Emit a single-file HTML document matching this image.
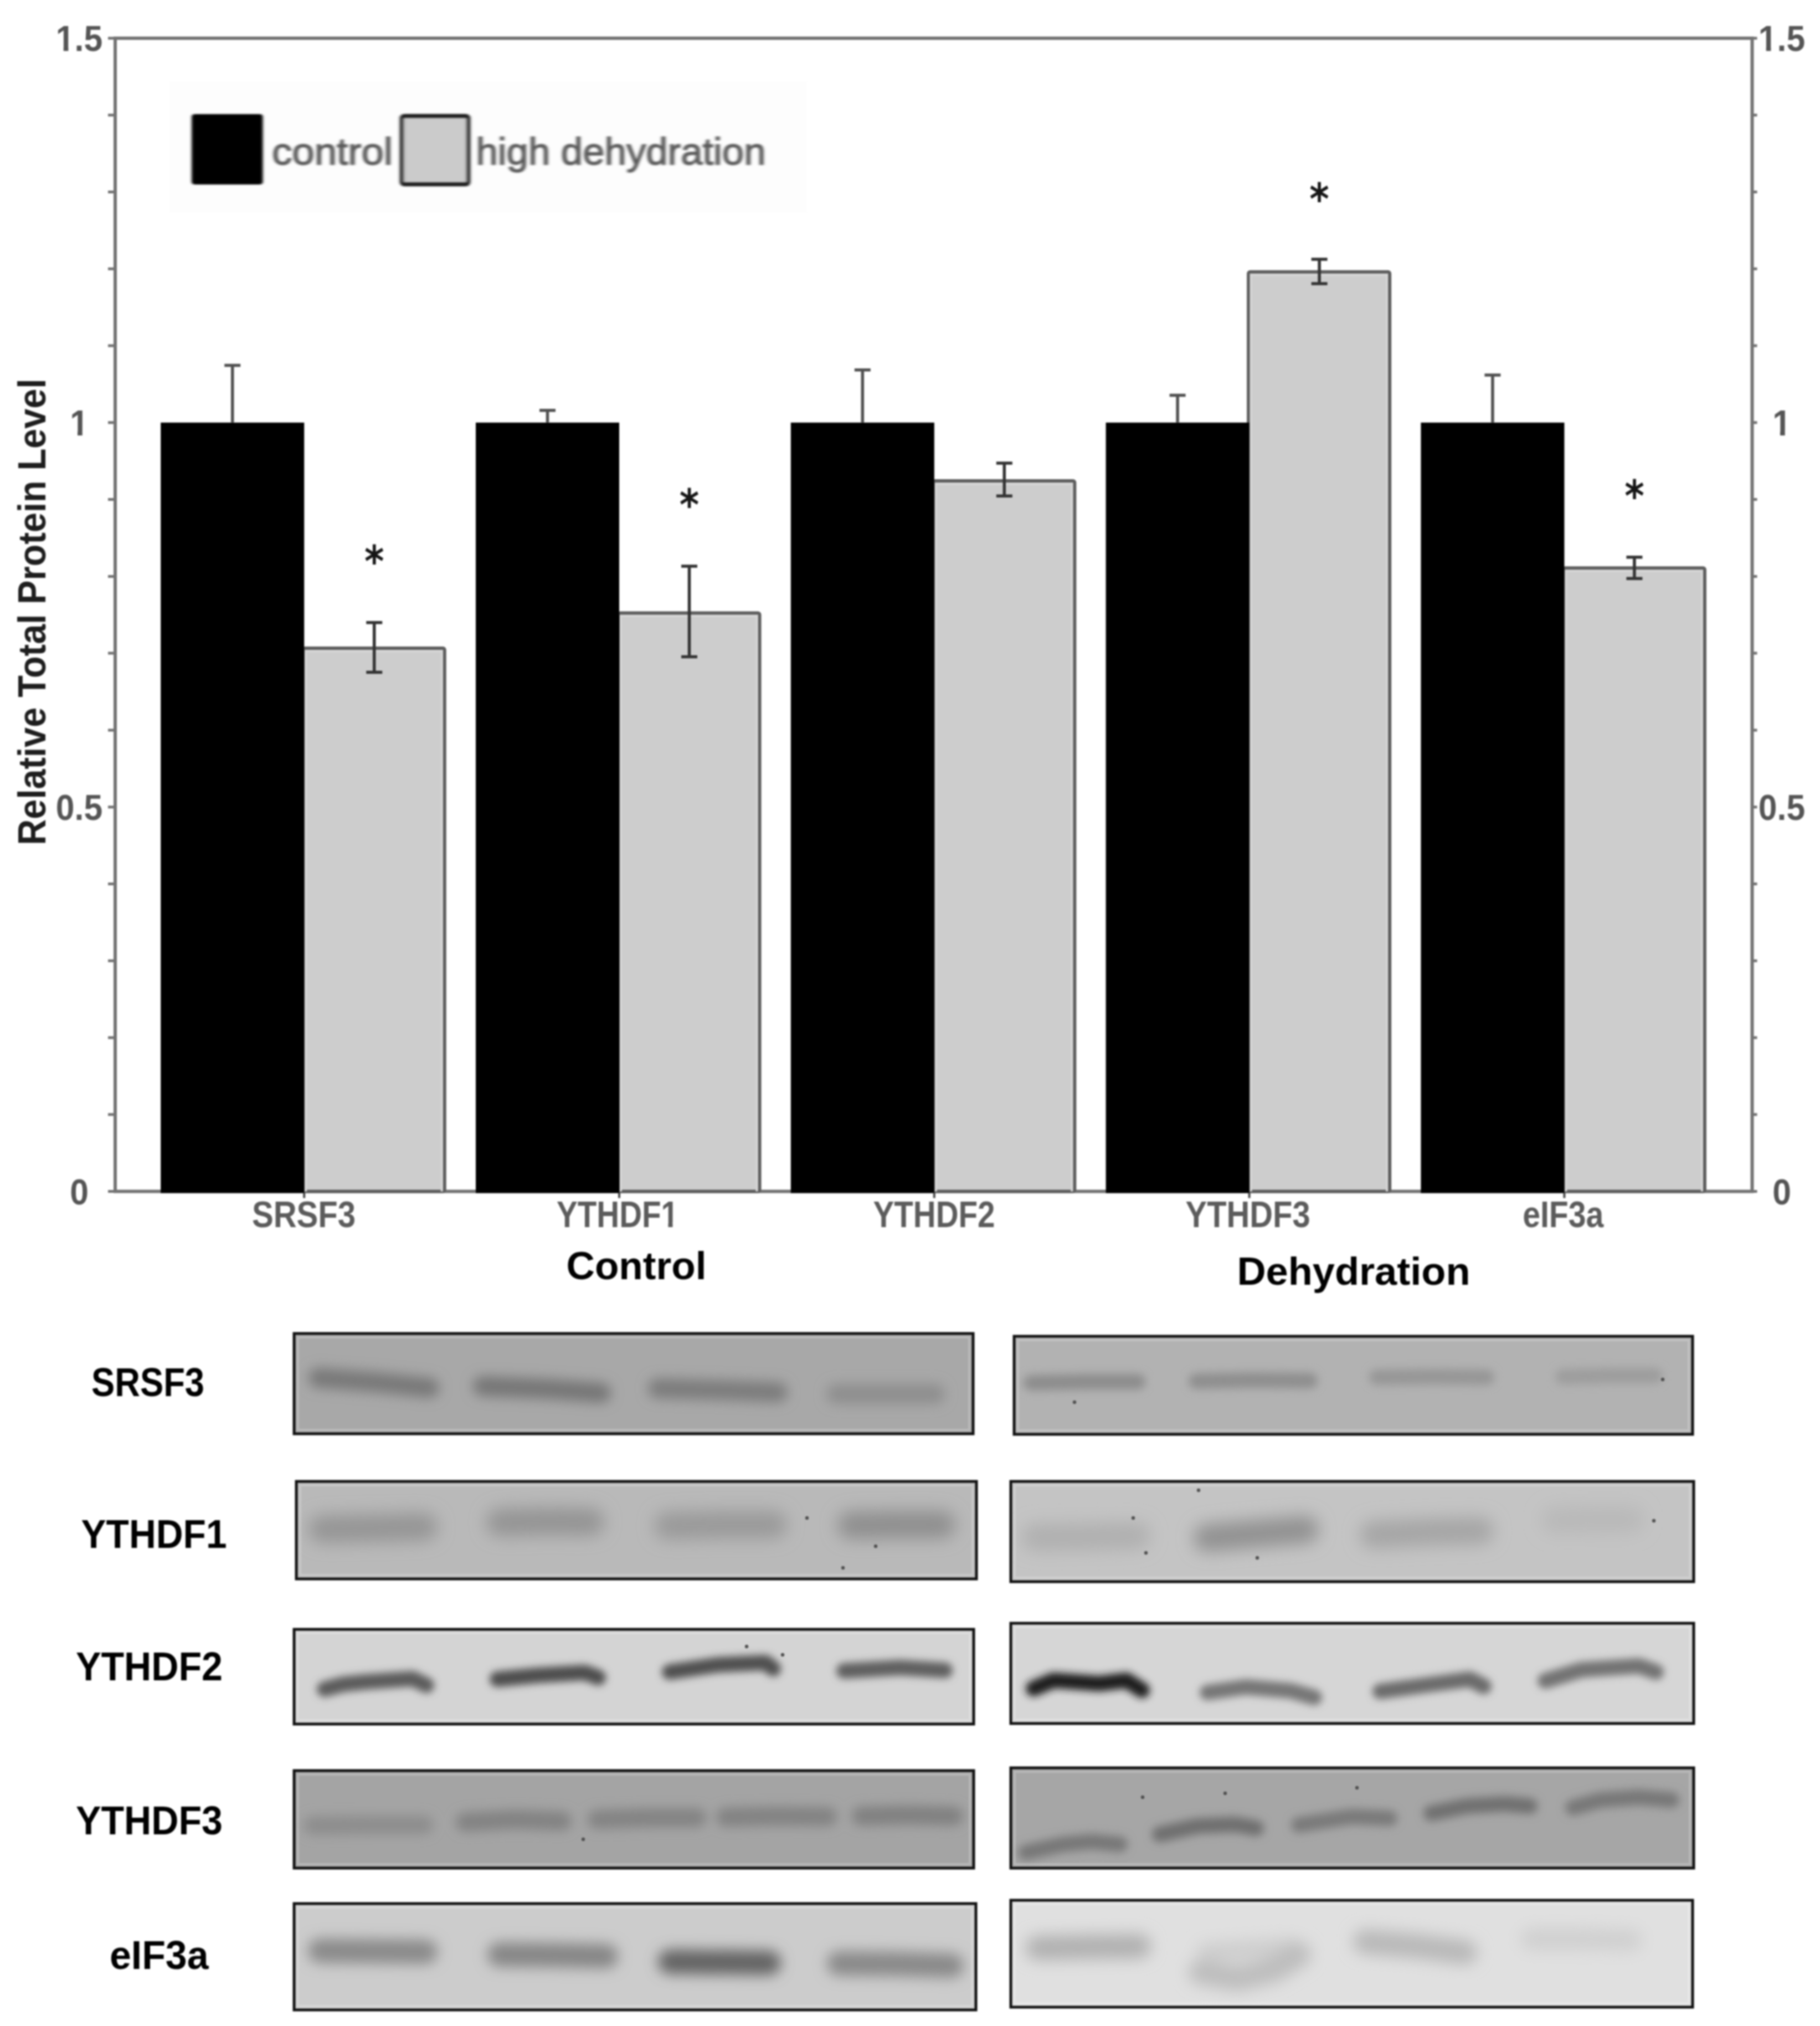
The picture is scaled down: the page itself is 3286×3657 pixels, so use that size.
<!DOCTYPE html><html><head><meta charset="utf-8"><title>Relative Total Protein Level</title>
<style>html,body{margin:0;padding:0;background:#fff;}body{width:3286px;height:3657px;overflow:hidden;}svg{display:block;filter:blur(1.8px);}.t{font-family:"Liberation Sans",Arial,sans-serif;}.d{font-family:"DejaVu Sans",sans-serif;}</style></head><body>
<svg width="3286" height="3657" viewBox="0 0 3286 3657">
<defs><filter id="lg" x="-5%" y="-20%" width="110%" height="140%"><feGaussianBlur stdDeviation="2.6 1.2"/></filter><filter id="p0" filterUnits="userSpaceOnUse" x="531" y="2407" width="1226" height="181"><feGaussianBlur stdDeviation="11"/></filter><filter id="p1" filterUnits="userSpaceOnUse" x="1831" y="2412" width="1225" height="177"><feGaussianBlur stdDeviation="8"/></filter><filter id="p2" filterUnits="userSpaceOnUse" x="535" y="2674" width="1228" height="176"><feGaussianBlur stdDeviation="15"/></filter><filter id="p3" filterUnits="userSpaceOnUse" x="1825" y="2674" width="1233" height="181"><feGaussianBlur stdDeviation="15"/></filter><filter id="p4" filterUnits="userSpaceOnUse" x="531" y="2941" width="1227" height="171"><feGaussianBlur stdDeviation="7"/></filter><filter id="p5" filterUnits="userSpaceOnUse" x="1825" y="2930" width="1233" height="181"><feGaussianBlur stdDeviation="7"/></filter><filter id="p6" filterUnits="userSpaceOnUse" x="531" y="3196" width="1227" height="176"><feGaussianBlur stdDeviation="10"/></filter><filter id="p7" filterUnits="userSpaceOnUse" x="1825" y="3191" width="1233" height="181"><feGaussianBlur stdDeviation="8"/></filter><filter id="p8" filterUnits="userSpaceOnUse" x="531" y="3436" width="1231" height="192"><feGaussianBlur stdDeviation="12"/></filter><filter id="p9" filterUnits="userSpaceOnUse" x="1825" y="3430" width="1231" height="193"><feGaussianBlur stdDeviation="14"/></filter></defs>
<rect width="3286" height="3657" fill="#fff"/>
<rect x="306" y="147" width="1151" height="237" fill="#fdfdfd"/>
<path d="M208 2150.5V69.0H3163.5V2150.5H208Z" stroke="#737373" stroke-width="6" fill="none"/>
<path d="M195 2150.5H208M3163.5 2150.5H3172.5M195 2011.7H208M3163.5 2011.7H3172.5M195 1873.0H208M3163.5 1873.0H3172.5M195 1734.2H208M3163.5 1734.2H3172.5M195 1595.4H208M3163.5 1595.4H3172.5M195 1456.7H208M3163.5 1456.7H3172.5M195 1317.9H208M3163.5 1317.9H3172.5M195 1179.1H208M3163.5 1179.1H3172.5M195 1040.4H208M3163.5 1040.4H3172.5M195 901.6H208M3163.5 901.6H3172.5M195 762.8H208M3163.5 762.8H3172.5M195 624.1H208M3163.5 624.1H3172.5M195 485.3H208M3163.5 485.3H3172.5M195 346.5H208M3163.5 346.5H3172.5M195 207.8H208M3163.5 207.8H3172.5M195 69.0H208M3163.5 69.0H3172.5" stroke="#737373" stroke-width="5" fill="none"/>
<path d="M549.2 2150.5V2162.5M1118.0 2150.5V2162.5M1686.8 2150.5V2162.5M2255.6 2150.5V2162.5M2824.4 2150.5V2162.5" stroke="#4a4a4a" stroke-width="4" fill="none"/>
<rect x="547.7" y="1169.9" width="255" height="980.6" rx="3" fill="#cdcdcd" stroke="#5e5e5e" stroke-width="6"/>
<path d="M552.2 2150.5V1175.4H797.7V2150.5" fill="none" stroke="#d6d6d6" stroke-width="4"/>
<rect x="1116.5" y="1106.4" width="255" height="1044.1" rx="3" fill="#cdcdcd" stroke="#5e5e5e" stroke-width="6"/>
<path d="M1121.0 2150.5V1111.9H1366.5V2150.5" fill="none" stroke="#d6d6d6" stroke-width="4"/>
<rect x="1685.3" y="867.9" width="255" height="1282.6" rx="3" fill="#cdcdcd" stroke="#5e5e5e" stroke-width="6"/>
<path d="M1689.8 2150.5V873.4H1935.3V2150.5" fill="none" stroke="#d6d6d6" stroke-width="4"/>
<rect x="2254.1" y="490.7" width="255" height="1659.8" rx="3" fill="#cdcdcd" stroke="#5e5e5e" stroke-width="6"/>
<path d="M2258.6 2150.5V496.2H2504.1V2150.5" fill="none" stroke="#d6d6d6" stroke-width="4"/>
<rect x="2822.9" y="1025.3" width="255" height="1125.2" rx="3" fill="#cdcdcd" stroke="#5e5e5e" stroke-width="6"/>
<path d="M2827.4 2150.5V1030.8H3072.9V2150.5" fill="none" stroke="#d6d6d6" stroke-width="4"/>
<rect x="290.2" y="762.8" width="259.0" height="1390.7" fill="#000"/>
<path d="M419.7 762.8V659.6M405.2 659.6H434.2" stroke="#505050" stroke-width="5.5" fill="none"/>
<path d="M675.7 1123.8V1213.4M661.2 1123.8H690.2M661.2 1213.4H690.2" stroke="#333" stroke-width="5.5" fill="none"/>
<text class="d" x="675.7" y="1040.9" font-size="78" font-weight="bold" text-anchor="middle" fill="#151515" textLength="35.5" lengthAdjust="spacingAndGlyphs">*</text>
<rect x="859.0" y="762.8" width="259.0" height="1390.7" fill="#000"/>
<path d="M988.5 762.8V740.7M974.0 740.7H1003.0" stroke="#505050" stroke-width="5.5" fill="none"/>
<path d="M1244.5 1022.0V1185.6M1230.0 1022.0H1259.0M1230.0 1185.6H1259.0" stroke="#333" stroke-width="5.5" fill="none"/>
<text class="d" x="1244.5" y="939.1" font-size="78" font-weight="bold" text-anchor="middle" fill="#151515" textLength="35.5" lengthAdjust="spacingAndGlyphs">*</text>
<rect x="1427.8" y="762.8" width="259.0" height="1390.7" fill="#000"/>
<path d="M1557.3 762.8V667.8M1542.8 667.8H1571.8" stroke="#505050" stroke-width="5.5" fill="none"/>
<path d="M1813.3 836.0V895.3M1798.8 836.0H1827.8M1798.8 895.3H1827.8" stroke="#333" stroke-width="5.5" fill="none"/>
<rect x="1996.6" y="762.8" width="259.0" height="1390.7" fill="#000"/>
<path d="M2126.1 762.8V713.6M2111.6 713.6H2140.6" stroke="#505050" stroke-width="5.5" fill="none"/>
<path d="M2382.1 468.0V512.0M2367.6 468.0H2396.6M2367.6 512.0H2396.6" stroke="#333" stroke-width="5.5" fill="none"/>
<text class="d" x="2382.1" y="386.8" font-size="78" font-weight="bold" text-anchor="middle" fill="#151515" textLength="35.5" lengthAdjust="spacingAndGlyphs">*</text>
<rect x="2565.4" y="762.8" width="259.0" height="1390.7" fill="#000"/>
<path d="M2694.9 762.8V677.1M2680.4 677.1H2709.4" stroke="#505050" stroke-width="5.5" fill="none"/>
<path d="M2950.9 1005.7V1044.3M2936.4 1005.7H2965.4M2936.4 1044.3H2965.4" stroke="#333" stroke-width="5.5" fill="none"/>
<text class="d" x="2950.9" y="922.9" font-size="78" font-weight="bold" text-anchor="middle" fill="#151515" textLength="35.5" lengthAdjust="spacingAndGlyphs">*</text>
<text class="t" x="143" y="2173.8" font-size="64.5" font-weight="bold" text-anchor="middle" fill="#555" textLength="33.71" lengthAdjust="spacingAndGlyphs">0</text>
<text class="t" x="3217" y="2173.8" font-size="64.5" font-weight="bold" text-anchor="middle" fill="#555" textLength="33.71" lengthAdjust="spacingAndGlyphs">0</text>
<text class="t" x="143" y="1480.0" font-size="64.5" font-weight="bold" text-anchor="middle" fill="#555" textLength="84.28" lengthAdjust="spacingAndGlyphs">0.5</text>
<text class="t" x="3217" y="1480.0" font-size="64.5" font-weight="bold" text-anchor="middle" fill="#555" textLength="84.28" lengthAdjust="spacingAndGlyphs">0.5</text>
<text class="t" x="143" y="786.1" font-size="64.5" font-weight="bold" text-anchor="middle" fill="#555" textLength="33.71" lengthAdjust="spacingAndGlyphs">1</text>
<text class="t" x="3217" y="786.1" font-size="64.5" font-weight="bold" text-anchor="middle" fill="#555" textLength="33.71" lengthAdjust="spacingAndGlyphs">1</text>
<text class="t" x="143" y="92.3" font-size="64.5" font-weight="bold" text-anchor="middle" fill="#555" textLength="84.28" lengthAdjust="spacingAndGlyphs">1.5</text>
<text class="t" x="3217" y="92.3" font-size="64.5" font-weight="bold" text-anchor="middle" fill="#555" textLength="84.28" lengthAdjust="spacingAndGlyphs">1.5</text>
<rect x="128.0" y="778.5" width="12.0" height="8.7" fill="#fff"/><rect x="148.7" y="778.5" width="11.4" height="8.7" fill="#fff"/>
<rect x="3202.0" y="778.5" width="12.0" height="8.7" fill="#fff"/><rect x="3222.7" y="778.5" width="11.4" height="8.7" fill="#fff"/>
<rect x="102.7" y="84.7" width="12.0" height="8.7" fill="#fff"/><rect x="123.4" y="84.7" width="11.4" height="8.7" fill="#fff"/>
<rect x="3176.7" y="84.7" width="12.0" height="8.7" fill="#fff"/><rect x="3197.4" y="84.7" width="11.4" height="8.7" fill="#fff"/>
<text class="t" transform="translate(82,1104.5) rotate(-90)" font-size="70" font-weight="bold" text-anchor="middle" fill="#1e1e1e" textLength="842" lengthAdjust="spacingAndGlyphs">Relative Total Protein Level</text>
<text class="t" x="548.5" y="2214.5" font-size="67" font-weight="bold" text-anchor="middle" fill="#5c5c5c" textLength="187" lengthAdjust="spacingAndGlyphs">SRSF3</text>
<text class="t" x="1115.0" y="2214.5" font-size="67" font-weight="bold" text-anchor="middle" fill="#5c5c5c" textLength="220" lengthAdjust="spacingAndGlyphs">YTHDF1</text>
<text class="t" x="1686.5" y="2214.5" font-size="67" font-weight="bold" text-anchor="middle" fill="#5c5c5c" textLength="220" lengthAdjust="spacingAndGlyphs">YTHDF2</text>
<text class="t" x="2253.1" y="2214.5" font-size="67" font-weight="bold" text-anchor="middle" fill="#5c5c5c" textLength="225" lengthAdjust="spacingAndGlyphs">YTHDF3</text>
<text class="t" x="2822.2" y="2214.5" font-size="67" font-weight="bold" text-anchor="middle" fill="#5c5c5c" textLength="146" lengthAdjust="spacingAndGlyphs">eIF3a</text>
<rect x="1195.2" y="2206.6" width="11.2" height="9.0" fill="#fff"/><rect x="1214.5" y="2206.6" width="10.6" height="9.0" fill="#fff"/>
<g filter="url(#lg)">
<rect x="346" y="206" width="128.5" height="127" rx="5" fill="#000"/>
<rect x="725.5" y="209.5" width="120" height="123" rx="4" fill="#cbcbcb" stroke="#1c1c1c" stroke-width="7.5"/>
<text class="t" x="491" y="297" font-size="68" fill="#5a5a5a" stroke="#5a5a5a" stroke-width="1.5" textLength="218" lengthAdjust="spacingAndGlyphs">control</text>
<text class="t" x="859.5" y="297" font-size="68" fill="#5a5a5a" stroke="#5a5a5a" stroke-width="1.5" textLength="523" lengthAdjust="spacingAndGlyphs">high dehydration</text>
</g>
<text class="t" x="1022.5" y="2308.8" font-size="71" font-weight="bold" fill="#000" textLength="253" lengthAdjust="spacingAndGlyphs">Control</text>
<text class="t" x="2233.5" y="2319.3" font-size="71" font-weight="bold" fill="#000" textLength="421" lengthAdjust="spacingAndGlyphs">Dehydration</text>
<text class="t" x="165" y="2520" font-size="72" font-weight="bold" fill="#000" textLength="204" lengthAdjust="spacingAndGlyphs">SRSF3</text>
<text class="t" x="146.5" y="2794" font-size="72" font-weight="bold" fill="#000" textLength="263" lengthAdjust="spacingAndGlyphs">YTHDF1</text>
<text class="t" x="137" y="3033" font-size="72" font-weight="bold" fill="#000" textLength="265" lengthAdjust="spacingAndGlyphs">YTHDF2</text>
<text class="t" x="137" y="3311" font-size="72" font-weight="bold" fill="#000" textLength="265" lengthAdjust="spacingAndGlyphs">YTHDF3</text>
<text class="t" x="198" y="3554" font-size="72" font-weight="bold" fill="#000" textLength="178.5" lengthAdjust="spacingAndGlyphs">eIF3a</text>
<rect x="531" y="2407" width="1226" height="181" fill="#a8a8a8"/>
<g stroke-linecap="round" stroke-linejoin="round" fill="none" filter="url(#p0)">
<path d="M575.0 2487.0L680.0 2495.0L775.0 2505.0" stroke="#787878" stroke-width="36"/>
<path d="M872.0 2502.0L990.0 2507.0L1085.0 2514.0" stroke="#767676" stroke-width="36"/>
<path d="M1188.0 2506.0L1300.0 2509.0L1404.0 2513.0" stroke="#7b7b7b" stroke-width="36"/>
<path d="M1510.0 2516.0L1600.0 2516.0L1688.0 2516.0" stroke="#8e8e8e" stroke-width="36"/>
</g>
<rect x="538" y="2414" width="1212" height="167" fill="none" stroke="#fff" stroke-opacity="0.2" stroke-width="4"/>
<rect x="531" y="2407" width="1226" height="181" fill="none" stroke="#111" stroke-width="5"/>
<rect x="1831" y="2412" width="1225" height="177" fill="#b2b2b2"/>
<g stroke-linecap="round" stroke-linejoin="round" fill="none" filter="url(#p1)">
<path d="M1862.0 2496.0L1960.0 2494.0L2054.0 2494.0" stroke="#8c8c8c" stroke-width="28"/>
<path d="M2160.0 2493.0L2260.0 2491.0L2365.0 2492.0" stroke="#8e8e8e" stroke-width="28"/>
<path d="M2486.0 2486.0L2590.0 2485.0L2684.0 2486.0" stroke="#969696" stroke-width="28"/>
<path d="M2822.0 2485.0L2910.0 2483.0L2988.0 2483.0" stroke="#9d9d9d" stroke-width="28"/>
</g>
<circle cx="1940" cy="2531" r="3.2" fill="#505050"/>
<circle cx="3002" cy="2490" r="3.2" fill="#505050"/>
<rect x="1838" y="2419" width="1211" height="163" fill="none" stroke="#fff" stroke-opacity="0.2" stroke-width="4"/>
<rect x="1831" y="2412" width="1225" height="177" fill="none" stroke="#111" stroke-width="5"/>
<rect x="535" y="2674" width="1228" height="176" fill="#b9b9b9"/>
<g stroke-linecap="round" stroke-linejoin="round" fill="none" filter="url(#p2)">
<path d="M582.0 2760.0L680.0 2758.0L765.0 2756.0" stroke="#959595" stroke-width="50"/>
<path d="M903.0 2748.0L985.0 2746.0L1066.0 2747.0" stroke="#949494" stroke-width="50"/>
<path d="M1206.0 2754.0L1300.0 2752.0L1396.0 2752.0" stroke="#9a9a9a" stroke-width="50"/>
<path d="M1537.0 2753.0L1620.0 2752.0L1700.0 2752.0" stroke="#8f8f8f" stroke-width="50"/>
</g>
<circle cx="1457" cy="2740" r="3.2" fill="#505050"/>
<circle cx="1581" cy="2791" r="3.2" fill="#505050"/>
<circle cx="1522" cy="2830" r="3.2" fill="#505050"/>
<rect x="542" y="2681" width="1214" height="162" fill="none" stroke="#fff" stroke-opacity="0.2" stroke-width="4"/>
<rect x="535" y="2674" width="1228" height="176" fill="none" stroke="#111" stroke-width="5"/>
<rect x="1825" y="2674" width="1233" height="181" fill="#c4c4c4"/>
<g stroke-linecap="round" stroke-linejoin="round" fill="none" filter="url(#p3)">
<path d="M1870.0 2775.0L1960.0 2774.0L2052.0 2772.0" stroke="#b0b0b0" stroke-width="50"/>
<path d="M2180.0 2776.0L2270.0 2768.0L2356.0 2761.0" stroke="#929292" stroke-width="50"/>
<path d="M2480.0 2770.0L2580.0 2765.0L2672.0 2763.0" stroke="#a6a6a6" stroke-width="50"/>
<path d="M2808.0 2744.0L2880.0 2743.0L2944.0 2743.0" stroke="#b9b9b9" stroke-width="50"/>
</g>
<circle cx="2164" cy="2690" r="3.2" fill="#505050"/>
<circle cx="2046" cy="2740" r="3.2" fill="#505050"/>
<circle cx="2069" cy="2803" r="3.2" fill="#505050"/>
<circle cx="2270" cy="2812" r="3.2" fill="#505050"/>
<circle cx="2986" cy="2745" r="3.2" fill="#505050"/>
<rect x="1832" y="2681" width="1219" height="167" fill="none" stroke="#fff" stroke-opacity="0.2" stroke-width="4"/>
<rect x="1825" y="2674" width="1233" height="181" fill="none" stroke="#111" stroke-width="5"/>
<rect x="531" y="2941" width="1227" height="171" fill="#d4d4d4"/>
<g stroke-linecap="round" stroke-linejoin="round" fill="none" filter="url(#p4)">
<path d="M586.0 3049.0L620.0 3040.0L659.0 3036.0L745.0 3030.0L770.0 3042.0" stroke="#5c5c5c" stroke-width="28"/>
<path d="M898.0 3031.0L970.0 3024.0L1056.0 3019.0L1080.0 3028.0" stroke="#4e4e4e" stroke-width="28"/>
<path d="M1209.0 3018.0L1296.0 3005.0L1382.0 3001.0L1396.0 3012.0" stroke="#505050" stroke-width="28"/>
<path d="M1524.0 3016.0L1625.0 3010.0L1706.0 3015.0" stroke="#5e5e5e" stroke-width="28"/>
</g>
<circle cx="1348" cy="2972" r="3.2" fill="#505050"/>
<circle cx="1413" cy="2987" r="3.2" fill="#505050"/>
<rect x="538" y="2948" width="1213" height="157" fill="none" stroke="#fff" stroke-opacity="0.2" stroke-width="4"/>
<rect x="531" y="2941" width="1227" height="171" fill="none" stroke="#111" stroke-width="5"/>
<rect x="1825" y="2930" width="1233" height="181" fill="#d6d6d6"/>
<g stroke-linecap="round" stroke-linejoin="round" fill="none" filter="url(#p5)">
<path d="M1866.0 3048.0L1902.0 3033.0L1985.0 3039.0L2034.0 3033.0L2062.0 3051.0" stroke="#1c1c1c" stroke-width="28"/>
<path d="M2180.0 3055.0L2249.0 3045.0L2331.0 3052.0L2373.0 3064.0" stroke="#767676" stroke-width="28"/>
<path d="M2492.0 3053.0L2578.0 3041.0L2654.0 3031.0L2679.0 3044.0" stroke="#6a6a6a" stroke-width="28"/>
<path d="M2790.0 3034.0L2855.0 3014.0L2959.0 3007.0L2990.0 3018.0" stroke="#727272" stroke-width="28"/>
</g>
<rect x="1832" y="2937" width="1219" height="167" fill="none" stroke="#fff" stroke-opacity="0.2" stroke-width="4"/>
<rect x="1825" y="2930" width="1233" height="181" fill="none" stroke="#111" stroke-width="5"/>
<rect x="531" y="3196" width="1227" height="176" fill="#a4a4a4"/>
<g stroke-linecap="round" stroke-linejoin="round" fill="none" filter="url(#p6)">
<path d="M565.0 3295.0L670.0 3294.0L765.0 3294.0" stroke="#8d8d8d" stroke-width="34"/>
<path d="M840.0 3289.0L930.0 3284.0L1015.0 3287.0" stroke="#828282" stroke-width="34"/>
<path d="M1078.0 3284.0L1170.0 3281.0L1258.0 3281.0" stroke="#838383" stroke-width="34"/>
<path d="M1310.0 3280.0L1400.0 3278.0L1494.0 3279.0" stroke="#828282" stroke-width="34"/>
<path d="M1555.0 3278.0L1640.0 3276.0L1722.0 3278.0" stroke="#808080" stroke-width="34"/>
</g>
<circle cx="1053" cy="3320" r="3.2" fill="#505050"/>
<rect x="538" y="3203" width="1213" height="162" fill="none" stroke="#fff" stroke-opacity="0.2" stroke-width="4"/>
<rect x="531" y="3196" width="1227" height="176" fill="none" stroke="#111" stroke-width="5"/>
<rect x="1825" y="3191" width="1233" height="181" fill="#a6a6a6"/>
<g stroke-linecap="round" stroke-linejoin="round" fill="none" filter="url(#p7)">
<path d="M1852.0 3344.0L1919.0 3329.0L1971.0 3324.0L2022.0 3329.0" stroke="#777777" stroke-width="28"/>
<path d="M2094.0 3311.0L2161.0 3296.0L2230.0 3293.0L2268.0 3300.0" stroke="#6e6e6e" stroke-width="28"/>
<path d="M2345.0 3294.0L2440.0 3279.0L2509.0 3282.0" stroke="#797979" stroke-width="28"/>
<path d="M2584.0 3273.0L2648.0 3260.0L2717.0 3256.0L2762.0 3260.0" stroke="#6f6f6f" stroke-width="28"/>
<path d="M2840.0 3263.0L2890.0 3249.0L2959.0 3244.0L3018.0 3249.0" stroke="#777777" stroke-width="28"/>
</g>
<circle cx="2063" cy="3244" r="3.2" fill="#505050"/>
<circle cx="2212" cy="3237" r="3.2" fill="#505050"/>
<circle cx="2450" cy="3227" r="3.2" fill="#505050"/>
<rect x="1832" y="3198" width="1219" height="167" fill="none" stroke="#fff" stroke-opacity="0.2" stroke-width="4"/>
<rect x="1825" y="3191" width="1233" height="181" fill="none" stroke="#111" stroke-width="5"/>
<rect x="531" y="3436" width="1231" height="192" fill="#cccccc"/>
<g stroke-linecap="round" stroke-linejoin="round" fill="none" filter="url(#p8)">
<path d="M578.0 3521.0L680.0 3522.0L768.0 3523.0" stroke="#8a8a8a" stroke-width="44"/>
<path d="M902.0 3528.0L1000.0 3529.0L1094.0 3531.0" stroke="#868686" stroke-width="44"/>
<path d="M1210.0 3541.0L1300.0 3542.0L1388.0 3543.0" stroke="#636363" stroke-width="44"/>
<path d="M1515.0 3544.0L1620.0 3545.0L1718.0 3548.0" stroke="#898989" stroke-width="44"/>
</g>
<rect x="538" y="3443" width="1217" height="178" fill="none" stroke="#fff" stroke-opacity="0.2" stroke-width="4"/>
<rect x="531" y="3436" width="1231" height="192" fill="none" stroke="#111" stroke-width="5"/>
<rect x="1825" y="3430" width="1231" height="193" fill="#e0e0e0"/>
<g stroke-linecap="round" stroke-linejoin="round" fill="none" filter="url(#p9)">
<path d="M1874.0 3516.0L1965.0 3514.0L2056.0 3513.0" stroke="#b0b0b0" stroke-width="44"/>
<path d="M2178.0 3524.0L2260.0 3519.0L2335.0 3514.0" stroke="#cdcdcd" stroke-width="34"/>
<path d="M2168.0 3560.0L2235.0 3572.0L2300.0 3556.0L2345.0 3528.0" stroke="#bdbdbd" stroke-width="44"/>
<path d="M2465.0 3505.0L2560.0 3513.0L2645.0 3524.0" stroke="#b8b8b8" stroke-width="44"/>
<path d="M2765.0 3500.0L2850.0 3500.0L2945.0 3502.0" stroke="#d0d0d0" stroke-width="40"/>
</g>
<rect x="1832" y="3437" width="1217" height="179" fill="none" stroke="#fff" stroke-opacity="0.2" stroke-width="4"/>
<rect x="1825" y="3430" width="1231" height="193" fill="none" stroke="#111" stroke-width="5"/>
</svg></body></html>
